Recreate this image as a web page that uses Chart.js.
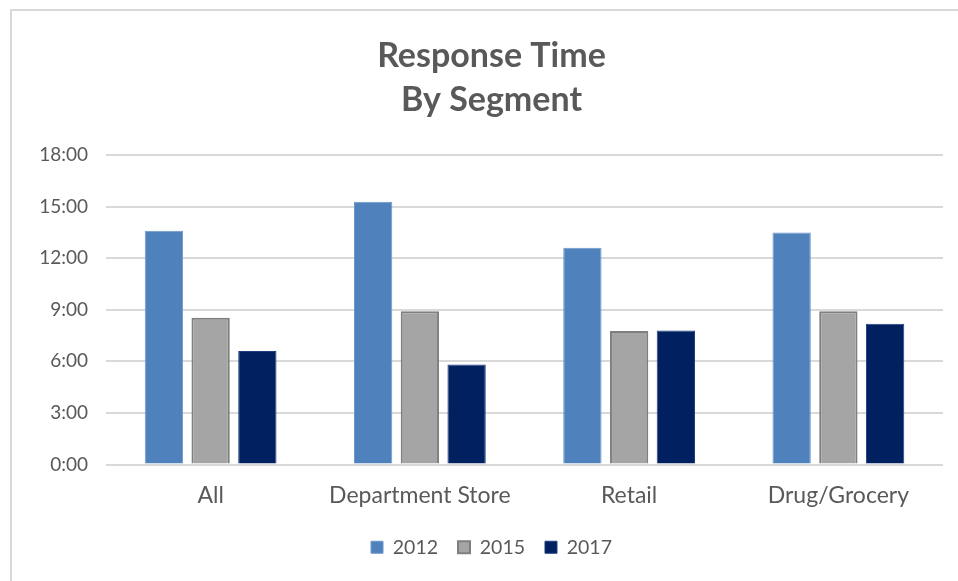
<!DOCTYPE html>
<html>
<head>
<meta charset="utf-8">
<script src="https://cdn.jsdelivr.net/npm/chart.js@4.4.1/dist/chart.umd.min.js"></script>
<style>
  html, body { margin: 0; padding: 0; background: #fff; }
  #wrap { position: relative; width: 958px; height: 581px; overflow: hidden; }
  #frame { position: absolute; left: 10px; top: 9px; width: 960px; height: 600px;
           border-top: 2px solid #d9d9d9; border-left: 2px solid #d9d9d9; }
  canvas { position: absolute; left: 0; top: 0; }
</style>
</head>
<body>
<div id="wrap">
  <div id="frame"></div>
  <canvas id="chart" width="958" height="581"></canvas>
</div>
<script>
  /* Response time per segment, values in minutes (axis shows m:ss) */
  const segments = ["All", "Department Store", "Retail", "Drug/Grocery"];
  const years = ["2012", "2015", "2017"];
  const values2012 = [13.59, 15.28, 12.6, 13.49];
  const values2015 = [8.54, 8.91, 7.77, 8.91];
  const values2017 = [6.6, 5.81, 7.8, 8.19];
  const yTicks = [0, 3, 6, 9, 12, 15, 18];

  const FONT = "Lato, 'Open Sans', sans-serif";
  const TXT = "#595959";

  const fmt = (v) => {
    const m = Math.floor(v);
    const s = Math.round((v - m) * 60);
    return m + ":" + String(s).padStart(2, "0");
  };

  new Chart(document.getElementById("chart"), {
    type: "bar",
    data: {
      labels: segments,
      datasets: [
        { label: years[0], data: values2012, backgroundColor: "#4f81bd", borderColor: "#6d98cc", borderWidth: 1 },
        { label: years[1], data: values2015, backgroundColor: "#a5a5a5", borderColor: "#7f7f7f", borderWidth: 2 },
        { label: years[2], data: values2017, backgroundColor: "#002060", borderColor: "#1f3f80", borderWidth: 1 },
      ],
    },
    options: {
      responsive: false,
      animation: false,
      devicePixelRatio: 1,
      // left padding keeps title/legend centred on the framed area
      layout: { padding: { left: 40, right: 15, top: 0, bottom: 14 } },
      datasets: { bar: { categoryPercentage: 0.67, barPercentage: 0.82 } },
      plugins: {
        title: {
          display: true,
          text: ["Response Time", "By Segment"],
          color: TXT,
          font: { family: FONT, size: 34, weight: "bold", lineHeight: 44 / 34 },
          padding: { top: 34, bottom: 33 },
        },
        legend: {
          position: "bottom",
          labels: {
            color: TXT,
            font: { family: FONT, size: 19.5 },
            boxWidth: 12,
            boxHeight: 12,
            padding: 20,
          },
        },
        tooltip: { enabled: false },
      },
      scales: {
        x: {
          afterFit: (s) => { s.height = 53; },
          grid: { display: false, drawTicks: false },
          border: { display: false },
          ticks: { color: TXT, font: { family: FONT, size: 23, lineHeight: 1 }, padding: 19.5, maxRotation: 0 },
        },
        y: {
          min: 0,
          max: 18,
          afterFit: (s) => { s.width = 66; },
          afterBuildTicks: (s) => { s.ticks = yTicks.map((v) => ({ value: v })); },
          grid: { color: "#d9d9d9", lineWidth: 2, drawTicks: false },
          border: { display: false },
          ticks: { color: TXT, font: { family: FONT, size: 19 }, padding: 18, callback: (v) => fmt(v) },
        },
      },
    },
  });
</script>
</body>
</html>
